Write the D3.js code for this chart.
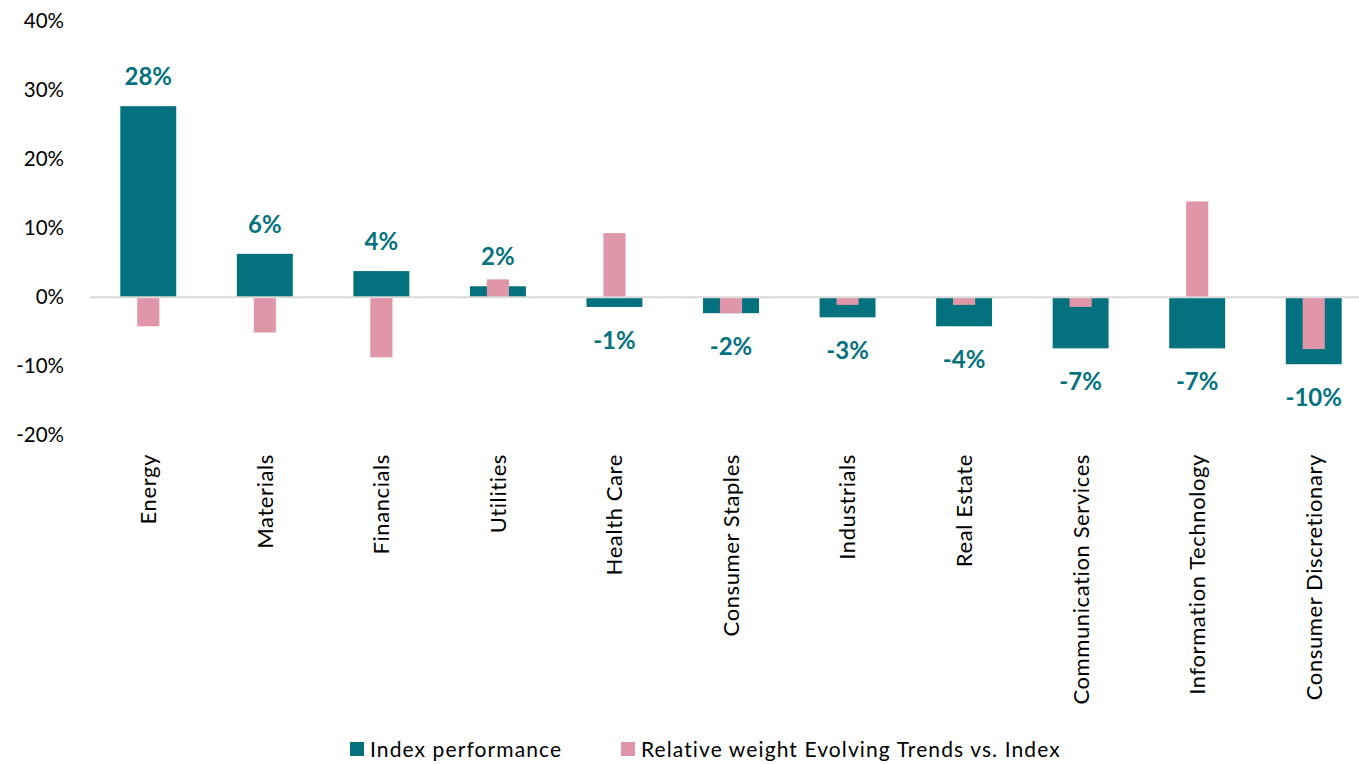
<!DOCTYPE html>
<html>
<head>
<meta charset="utf-8">
<script src="https://cdn.jsdelivr.net/npm/d3@7"></script>
<style>
  html, body { margin: 0; padding: 0; background: #fff; }
  svg { display: block; font-family: Lato, "Open Sans", sans-serif; }
</style>
</head>
<body>
<svg id="chart" width="1359" height="764"></svg>
<script>
const categories = ["Energy", "Materials", "Financials", "Utilities", "Health Care", "Consumer Staples",
  "Industrials", "Real Estate", "Communication Services", "Information Technology", "Consumer Discretionary"];
const indexPerformance = [27.7, 6.3, 3.8, 1.6, -1.4, -2.3, -2.9, -4.2, -7.4, -7.4, -9.7];
const relativeWeight = [-4.2, -5.1, -8.7, 2.6, 9.3, -2.3, -1.1, -1.1, -1.4, 13.9, -7.5];
const yTicks = [-20, -10, 0, 10, 20, 30, 40];
const seriesNames = ["Index performance", "Relative weight Evolving Trends vs. Index"];
const colors = ["#04727e", "#e096a9"];

const svg = d3.select("#chart");
const x = d3.scaleBand().domain(categories).range([90, 1372]).padding(0);
const y = d3.scaleLinear().domain([-20, 40]).range([435.3, 21.3]);

const bw = x.bandwidth();
const tealW = bw * 0.48;
const pinkW = bw * 0.19;

// y axis labels
const yAxis = d3.axisLeft(y).tickValues(yTicks).tickSize(0).tickPadding(0).tickFormat(d => d + "%");
const gy = svg.append("g").attr("transform", "translate(64,0)").call(yAxis);
gy.select(".domain").remove();
gy.selectAll("text").attr("font-size", 20.5).attr("fill", "#000").attr("font-family", "Lato, sans-serif");

// bars: index performance
svg.append("g").selectAll("rect").data(categories).join("rect")
  .attr("x", (d) => x(d) + bw / 2 - tealW / 2)
  .attr("width", tealW)
  .attr("y", (d, i) => y(Math.max(0, indexPerformance[i])))
  .attr("height", (d, i) => Math.abs(y(indexPerformance[i]) - y(0)))
  .attr("fill", colors[0]);

// bars: relative weight
svg.append("g").selectAll("rect").data(categories).join("rect")
  .attr("x", (d) => x(d) + bw / 2 - pinkW / 2)
  .attr("width", pinkW)
  .attr("y", (d, i) => y(Math.max(0, relativeWeight[i])))
  .attr("height", (d, i) => Math.abs(y(relativeWeight[i]) - y(0)))
  .attr("fill", colors[1]);

// zero line
svg.append("line").attr("x1", 90).attr("x2", 1359).attr("y1", y(0)).attr("y2", y(0))
  .attr("stroke", "#d9d9d9").attr("stroke-width", 2);

// data labels
svg.append("g").selectAll("text").data(categories).join("text")
  .attr("x", (d) => x(d) + bw / 2)
  .attr("y", (d, i) => indexPerformance[i] >= 0 ? y(indexPerformance[i]) - 21 : y(indexPerformance[i]) + 42)
  .attr("text-anchor", "middle")
  .attr("font-size", 24).attr("font-weight", "bold").attr("fill", colors[0])
  .text((d, i) => Math.round(indexPerformance[i]) + "%");

// x axis category labels
const xAxis = d3.axisBottom(x).tickSize(0).tickPadding(0);
const gx = svg.append("g").attr("transform", "translate(0,454)").call(xAxis);
gx.select(".domain").remove();
gx.selectAll("text")
  .attr("font-size", 22).attr("fill", "#000").attr("font-family", "Lato, sans-serif")
  .attr("letter-spacing", "0.6px")
  .attr("text-anchor", "end")
  .attr("transform", "rotate(-90)")
  .attr("x", 0).attr("y", 0).attr("dy", "0.36em");

// legend
const legend = svg.append("g");
const legendX = [350, 621];
seriesNames.forEach((name, i) => {
  legend.append("rect").attr("x", legendX[i]).attr("y", 742).attr("width", 14).attr("height", 14).attr("fill", colors[i]);
  legend.append("text").attr("x", legendX[i] + 20).attr("y", 757).attr("font-size", 21).attr("fill", "#000")
    .attr("letter-spacing", "1.1px")
    .text(name);
});
</script>
</body>
</html>
